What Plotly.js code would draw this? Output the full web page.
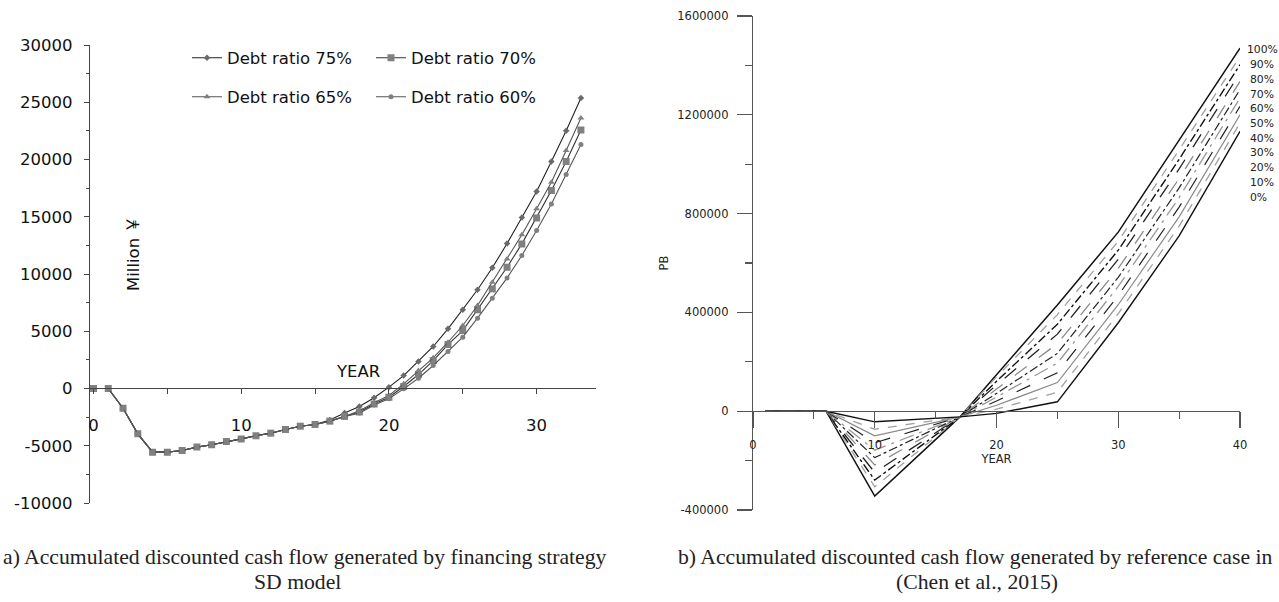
<!DOCTYPE html>
<html>
<head>
<meta charset="utf-8">
<script src="https://cdn.plot.ly/plotly-3.0.1.min.js"></script>
<style>html,body{margin:0;padding:0;background:#fff;}#chart{width:1279px;height:602px;}</style>
</head>
<body>
<div id="chart"></div>
<script>
// ---------- Panel (a): SD model, accumulated discounted cash flow (Million ￥) ----------
const years = [0,1,2,3,4,5,6,7,8,9,10,11,12,13,14,15,16,17,18,19,20,21,22,23,24,25,26,27,28,29,30,31,32,33];
const debt75 = [0,0,-1720,-3960,-5560,-5560,-5410,-5120,-4920,-4630,-4400,-4130,-3900,-3580,-3290,-3140,-2750,-2150,-1570,-810,120,1130,2360,3670,5210,6870,8620,10540,12660,14930,17200,19820,22520,25380];
const debt70 = [0,0,-1720,-3960,-5560,-5560,-5410,-5120,-4920,-4630,-4400,-4130,-3900,-3580,-3290,-3140,-2850,-2440,-2050,-1350,-760,170,1220,2440,3840,5060,6870,8700,10590,12630,14900,17290,19820,22580];
const debt65 = [0,0,-1720,-3960,-5560,-5560,-5410,-5120,-4920,-4630,-4400,-4130,-3900,-3580,-3290,-3140,-2850,-2440,-1950,-1250,-610,410,1570,2680,4040,5500,7250,9280,11320,13420,15690,18010,20780,23630];
const debt60 = [0,0,-1720,-3960,-5560,-5560,-5410,-5120,-4920,-4630,-4400,-4130,-3900,-3580,-3290,-3140,-2850,-2440,-2150,-1450,-900,-30,900,2010,3230,4480,6140,7880,9660,11610,13790,16120,18680,21300];
const seriesA = ["Debt ratio 75%","Debt ratio 70%","Debt ratio 65%","Debt ratio 60%"];
const aYTicks = [-10000,-5000,0,5000,10000,15000,20000,25000,30000];
const aYText  = ["-10000","-5000","0","5000","10000","15000","20000","25000","30000"];
const aXTicks = [0,10,20,30];

// ---------- Panel (b): reference case (Chen et al., 2015), PB ----------
const pbYears = [1,6,10,17,20,25,30,35,40];
const pb0   = [0,0,-43000,-23000,-9000,38000,358000,710000,1133000];
const pb10  = [0,0,-73000,-23000,8000,77000,395000,749000,1167000];
const pb20  = [0,0,-100000,-23000,24000,116000,431000,787000,1200000];
const pb30  = [0,0,-128000,-23000,41000,156000,468000,826000,1234000];
const pb40  = [0,0,-158000,-23000,57000,195000,505000,865000,1268000];
const pb50  = [0,0,-188000,-23000,72000,234000,542000,904000,1302000];
const pb60  = [0,0,-218000,-23000,90000,273000,578000,942000,1335000];
const pb70  = [0,0,-248000,-23000,106000,312000,615000,981000,1369000];
const pb80  = [0,0,-279000,-23000,121000,352000,652000,1020000,1403000];
const pb90  = [0,0,-306000,-23000,139000,391000,688000,1058000,1436000];
const pb100 = [0,0,-344000,-23000,148000,430000,725000,1097000,1470000];
const pbLabels = ["100%","90%","80%","70%","60%","50%","40%","30%","20%","10%","0%"];
const bYTicks = [-400000,0,400000,800000,1200000,1600000];
const bYText  = ["-400000","0","400000","800000","1200000","1600000"];

const captionA1 = "a) Accumulated discounted cash flow generated by financing strategy";
const captionA2 = "SD model";
const captionB1 = "b) Accumulated discounted cash flow generated by reference case in";
const captionB2 = "(Chen et al., 2015)";

// ---------- styles ----------
const SANS = "DejaVu Sans, Liberation Sans, Noto Sans CJK SC, sans-serif";
const SERIF = "Liberation Serif, serif";
const W = 1279, H = 602;
const px = v => v / W;
const py = v => (H - v) / H;

const aStyles = [
  {line:'#222', mk:'#6a6a6a', sym:'diamond', size:5},
  {line:'#333', mk:'#808080', sym:'square', size:7},
  {line:'#555', mk:'#808080', sym:'triangle-up', size:6},
  {line:'#555', mk:'#808080', sym:'circle', size:5}
];
const aData = [debt75, debt70, debt65, debt60];
const traces = [];
aData.forEach((d,i) => {
  traces.push({
    x: years, y: d, xaxis:'x', yaxis:'y', type:'scatter', mode:'lines+markers',
    name: seriesA[i],
    legend: i < 2 ? 'legend' : 'legend2',
    line: {color: aStyles[i].line, width: 1.1},
    marker: {symbol: aStyles[i].sym, size: aStyles[i].size, color: aStyles[i].mk},
    hoverinfo: 'skip'
  });
});

const bData = [pb100, pb90, pb80, pb70, pb60, pb50, pb40, pb30, pb20, pb10, pb0];
const bStyles = [
  {c:'#111', d:'solid', w:1.5},
  {c:'#a0a0a0', d:'dash', w:1.3},
  {c:'#111', d:'dashdot', w:1.4},
  {c:'#222', d:'longdash', w:1.3},
  {c:'#8a8a8a', d:'longdash', w:1.3},
  {c:'#222', d:'dashdot', w:1.2},
  {c:'#999', d:'longdashdot', w:1.3},
  {c:'#222', d:'longdash', w:1.2},
  {c:'#8a8a8a', d:'solid', w:1.2},
  {c:'#a0a0a0', d:'dash', w:1.3},
  {c:'#111', d:'solid', w:1.4}
];
bData.forEach((d,i) => {
  traces.push({
    x: pbYears, y: d, xaxis:'x2', yaxis:'y2', type:'scatter', mode:'lines',
    name: pbLabels[i], showlegend:false,
    line: {color: bStyles[i].c, dash: bStyles[i].d, width: bStyles[i].w},
    hoverinfo: 'skip'
  });
});

// annotations
const annotations = [];
pbLabels.forEach((t,i) => {
  annotations.push({
    text: t, xref:'paper', yref:'paper', x: px(1245 + Math.min(i,1)*3), y: py(50 + i*14.7),
    xanchor:'left', yanchor:'middle', showarrow:false,
    font:{family:SANS, size:10.8, color:'#222'}
  });
});
annotations.push({text:'YEAR', xref:'paper', yref:'paper', x:px(358), y:py(371),
  xanchor:'center', yanchor:'middle', showarrow:false, font:{family:SANS, size:16.5, color:'#111'}});
annotations.push({text:'Million ￥', xref:'paper', yref:'paper', x:px(133), y:py(254),
  xanchor:'center', yanchor:'middle', textangle:-90, showarrow:false, font:{family:SANS, size:16.5, color:'#111'}});
const capFont = {family:SERIF, size:21.7, color:'#222'};
annotations.push({text:captionA1, xref:'paper', yref:'paper', x:px(1), y:py(557),
  xanchor:'left', yanchor:'middle', showarrow:false, font:capFont});
annotations.push({text:captionA2, xref:'paper', yref:'paper', x:px(297), y:py(582),
  xanchor:'center', yanchor:'middle', showarrow:false, font:capFont});
annotations.push({text:captionB1, xref:'paper', yref:'paper', x:px(676), y:py(557),
  xanchor:'left', yanchor:'middle', showarrow:false, font:capFont});
annotations.push({text:captionB2, xref:'paper', yref:'paper', x:px(977), y:py(582),
  xanchor:'center', yanchor:'middle', showarrow:false, font:capFont});

const legBase = {
  orientation:'h', xref:'paper', yref:'paper', xanchor:'left', yanchor:'middle',
  entrywidth:139, entrywidthmode:'pixels', itemwidth:30,
  font:{family:SANS, size:16.5, color:'#111'}, bgcolor:'rgba(0,0,0,0)', borderwidth:0
};

const layout = {
  width: W, height: H,
  margin: {l:0, r:0, t:0, b:0},
  paper_bgcolor:'#fff', plot_bgcolor:'rgba(0,0,0,0)',
  showlegend: true,
  legend: Object.assign({}, legBase, {x: px(187), y: py(58)}),
  legend2: Object.assign({}, legBase, {x: px(187), y: py(97)}),
  xaxis: {
    domain:[px(89.8), px(595.7)], range:[-0.25, 34], anchor:'free', position: py(388),
    showline:true, linecolor:'#444', linewidth:1, showgrid:false, zeroline:false,
    tickmode:'array', tickvals:aXTicks, ticks:'outside', ticklen:5, tickcolor:'#444',
    minor:{tickvals:[5,15,25], ticks:'outside', ticklen:5, tickcolor:'#444'},
    tickfont:{family:SANS, size:16.5, color:'#111'}, ticklabelstandoff:17
  },
  yaxis: {
    domain:[py(503), py(45)], range:[-10000, 30000], anchor:'x',
    showline:true, linecolor:'#444', linewidth:1, showgrid:false, zeroline:false,
    tickmode:'array', tickvals:aYTicks, ticktext:aYText, ticks:'outside', ticklen:5, tickcolor:'#444',
    minor:{dtick:2500, tick0:0, ticks:'outside', ticklen:3, tickcolor:'#444'},
    tickfont:{family:SANS, size:16.5, color:'#111'}, ticklabelstandoff:8
  },
  xaxis2: {
    domain:[px(753), px(1240)], range:[0, 40], anchor:'free', position: py(411),
    showline:true, linecolor:'#555', linewidth:1.2, showgrid:false, zeroline:false,
    dtick:10, tick0:0, ticks:'outside', ticklen:16, tickcolor:'#555', tickwidth:1.2,
    minor:{dtick:5, ticks:'outside', ticklen:7, tickcolor:'#555', tickwidth:1.2},
    tickfont:{family:SANS, size:11.5, color:'#222'}, ticklabelstandoff:7,
    title:{text:'YEAR', standoff:3, font:{family:SANS, size:11.5, color:'#222'}},
    automargin:false
  },
  yaxis2: {
    domain:[py(510), py(16)], range:[-400000, 1600000], anchor:'x2',
    showline:true, linecolor:'#555', linewidth:1.2, showgrid:false, zeroline:false,
    tickmode:'array', tickvals:bYTicks, ticktext:bYText, ticks:'outside', ticklen:15, tickcolor:'#555', tickwidth:1.2,
    minor:{dtick:200000, tick0:0, ticks:'outside', ticklen:7, tickcolor:'#555', tickwidth:1.2},
    tickfont:{family:SANS, size:11.5, color:'#222'}, ticklabelstandoff:6,
    title:{text:'PB', standoff:6, font:{family:SANS, size:11.5, color:'#222'}},
    automargin:false
  },
  annotations: annotations
};

Plotly.newPlot('chart', traces, layout, {displayModeBar:false, staticPlot:true});
</script>
</body>
</html>
